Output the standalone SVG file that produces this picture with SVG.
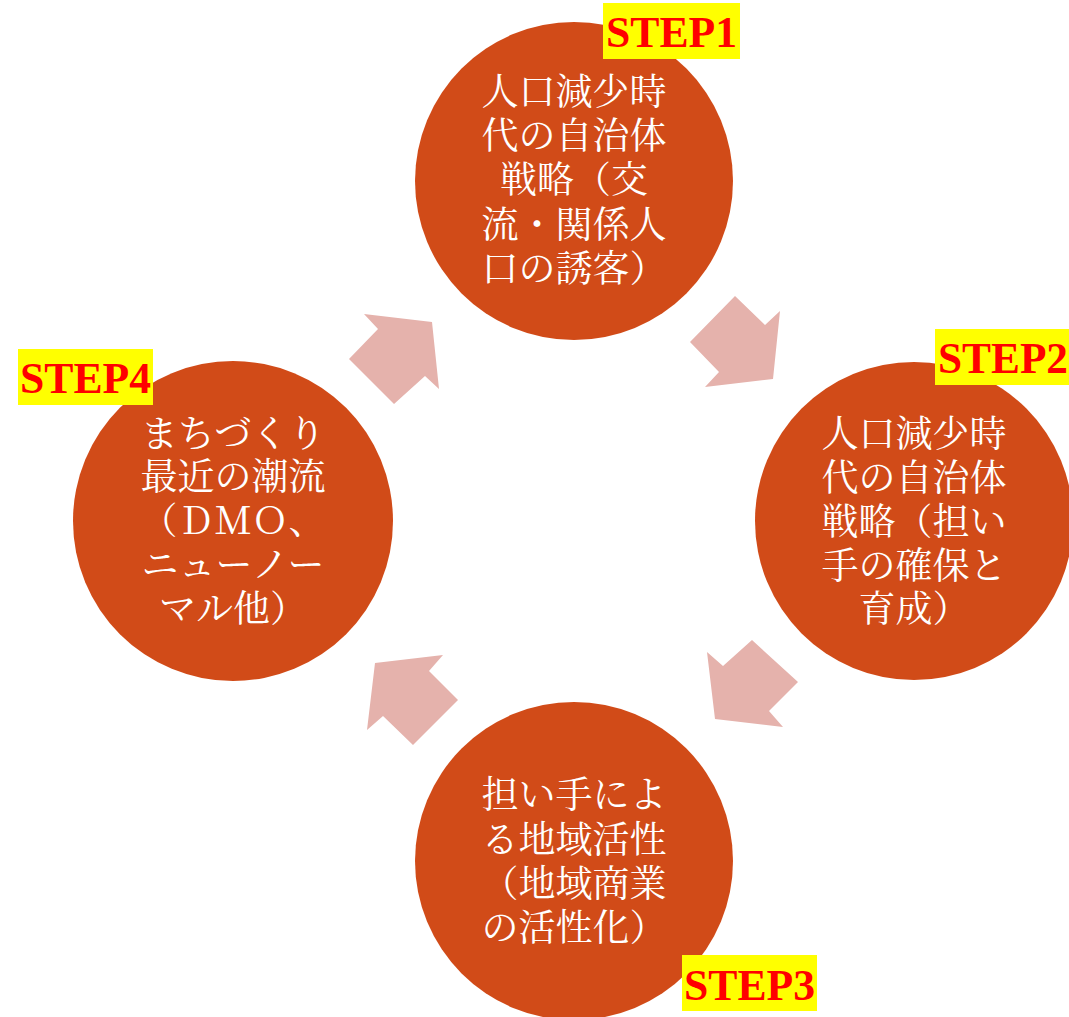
<svg xmlns="http://www.w3.org/2000/svg" width="1069" height="1017" viewBox="0 0 1069 1017">
<style>
.c{fill:#D14B18}
.t{fill:#FFFFFF;font-family:"Noto Serif CJK JP","Noto Sans CJK JP",serif;font-size:37px;text-anchor:middle}
.a{fill:#E5B2AC}
.lb{fill:#FFFF00}
.st{fill:#FF0000;font-family:"Liberation Serif",serif;font-weight:bold;font-size:44px}
</style>
<rect width="1069" height="1017" fill="#FFFFFF"/>
<g id="connectors">
<polygon class="a" points="364,314 432,322 439,389 425,376 394,404 349,359 378,329"/>
<polygon class="a" points="735,296 765,325 780,311 773,379 705,387 719,372 690,342"/>
<polygon class="a" points="752,640 798,682 769,711 783,727 715,719 707,652 723,666"/>
<polygon class="a" points="443,655 429,671 458,700 413,745 383,716 367,730 375,663"/>
</g>
<g id="step1">
<circle class="c" cx="574" cy="181" r="159"/>
<text class="t"><tspan x="574" y="105">人口減少時</tspan><tspan x="574" y="149">代の自治体</tspan><tspan x="574" y="193">戦略（交</tspan><tspan x="574" y="238">流・関係人</tspan><tspan x="574" y="282">口の誘客）</tspan></text>
<rect class="lb" x="603" y="3" width="137" height="56"/>
<text class="st" x="606" y="47" textLength="131" lengthAdjust="spacingAndGlyphs">STEP1</text>
</g>
<g id="step2">
<circle class="c" cx="914" cy="521" r="159"/>
<text class="t"><tspan x="914" y="447">人口減少時</tspan><tspan x="914" y="491">代の自治体</tspan><tspan x="914" y="535">戦略（担い</tspan><tspan x="914" y="579">手の確保と</tspan><tspan x="914" y="622">育成）</tspan></text>
<rect class="lb" x="935" y="329" width="134" height="56"/>
<text class="st" x="938" y="373" textLength="130" lengthAdjust="spacingAndGlyphs">STEP2</text>
</g>
<g id="step3">
<circle class="c" cx="574" cy="861" r="159"/>
<text class="t"><tspan x="574" y="808">担い手によ</tspan><tspan x="574" y="853">る地域活性</tspan><tspan x="574" y="897">（地域商業</tspan><tspan x="574" y="941">の活性化）</tspan></text>
<rect class="lb" x="682" y="955" width="135" height="56"/>
<text class="st" x="684" y="1000" textLength="131" lengthAdjust="spacingAndGlyphs">STEP3</text>
</g>
<g id="step4">
<circle class="c" cx="233" cy="521" r="160"/>
<text class="t"><tspan x="233" y="447">まちづくり</tspan><tspan x="233" y="490">最近の潮流</tspan><tspan x="233" y="534">（ＤＭＯ、</tspan><tspan x="233" y="578">ニューノー</tspan><tspan x="233" y="622">マル他）</tspan></text>
<rect class="lb" x="18" y="349" width="135" height="56"/>
<text class="st" x="20" y="393" textLength="131" lengthAdjust="spacingAndGlyphs">STEP4</text>
</g>
</svg>
